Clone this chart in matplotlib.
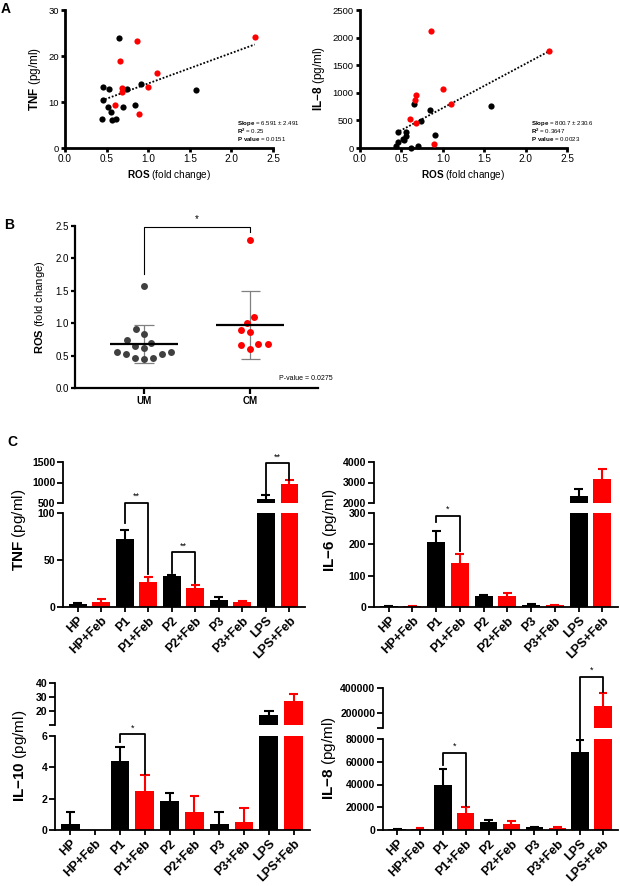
import numpy as np
import matplotlib
matplotlib.use('Agg')
import matplotlib.pyplot as plt

plt.rcParams['font.family'] = ['Liberation Sans', 'DejaVu Sans']
plt.rcParams['mathtext.fontset'] = 'custom'
plt.rcParams['mathtext.rm'] = 'Liberation Sans'
plt.rcParams['mathtext.bf'] = 'Liberation Sans:bold'

###############################################################################
# Data, panel A/B (one entry per donor)
ros_um = [1.58, 0.91, 0.84, 0.74, 0.70, 0.65, 0.61, 0.56, 0.55, 0.53, 0.52, 0.46, 0.46, 0.44]
tnf_um = [12.7, 13.9, 9.3, 12.9, 9.0, 23.9, 6.3, 6.0, 7.8, 12.9, 9.0, 13.2, 10.4, 6.4]
il8_um = [765, 229, 680, 494, 30, 801, 0, 289, 210, 140, 170, 289, 108, 30]

ros_cm = [2.28, 1.10, 1.00, 0.89, 0.86, 0.68, 0.66, 0.68, 0.60]
tnf_cm = [24.2, 16.3, 13.2, 7.5, 23.3, 13.1, 18.9, 12.1, 9.3]
il8_cm = [1765, 801, 1072, 78, 2127, 964, 873, 452, 524]

###############################################################################
# Data, panel C (mean and SEM)
groups = ['HP', 'HP+Feb', 'P1', 'P1+Feb', 'P2', 'P2+Feb', 'P3', 'P3+Feb', 'LPS', 'LPS+Feb']
tnf_mean = [2.8, 5.7, 72.3, 27.0, 33.0, 20.6, 7.4, 5.0, 606, 975]
tnf_sem = [1.5, 2.8, 9.3, 5.0, 1.4, 3.2, 2.9, 1.0, 99, 82]
il6_mean = [2.0, 3.0, 207, 140, 34, 34, 7.4, 5.0, 2358, 3187]
il6_sem = [0.8, 0.8, 37, 28, 5, 11, 3.2, 1.0, 309, 488]
il10_mean = [0.39, 0.0, 4.39, 2.46, 1.84, 1.13, 0.39, 0.49, 17.1, 26.8]
il10_sem = [0.74, 0.0, 0.92, 1.07, 0.54, 1.01, 0.74, 0.90, 3.1, 5.4]
il8_mean = [870, 1160, 39270, 15100, 6980, 5530, 2330, 2040, 68650, 257000]
il8_sem = [300, 300, 14230, 5260, 1750, 2320, 570, 560, 10750, 104000]

W, H = 620, 886
fig = plt.figure(figsize=(W / 100, H / 100), dpi=100)


def box(l, t, r, b):
    return [l / W, 1 - b / H, (r - l) / W, (b - t) / H]


def ftxt(x, y, s, **kw):
    fig.text(x / W, 1 - y / H, s, **kw)


def style(ax, lw, ticksize, ticklen=3):
    for sp in ('top', 'right'):
        ax.spines[sp].set_visible(False)
    for sp in ('left', 'bottom'):
        ax.spines[sp].set_linewidth(lw)
    ax.tick_params(width=lw, length=ticklen, labelsize=ticksize, pad=1.5)


###############################################################################
# A: scatter + linear fit
def scatter_panel(rect, y_um, y_cm, ylim, yticks, ylab, stats):
    ax = fig.add_axes(box(*rect))
    ax.scatter(ros_um, y_um, s=20, c='black', linewidths=0, zorder=3, clip_on=False)
    ax.scatter(ros_cm, y_cm, s=20, c='red', linewidths=0, zorder=3, clip_on=False)
    x = np.array(ros_um + ros_cm)
    y = np.array(y_um + y_cm)
    k, b = np.polyfit(x, y, 1)
    xs = np.array([x.min(), x.max()])
    ax.plot(xs, k * xs + b, color='black', ls=(0, (1, 1)), lw=1.3)
    ax.set_xlim(0, 2.5)
    ax.set_ylim(*ylim)
    ax.set_xticks(np.arange(0, 2.51, 0.5))
    ax.set_xticklabels(['%.1f' % v for v in np.arange(0, 2.51, 0.5)])
    ax.set_yticks(yticks)
    style(ax, 2.0, 7.2)
    ax.tick_params(axis='y', labelsize=6.8)
    ax.set_xlabel(r'$\mathbf{ROS}$ (fold change)', fontsize=7.2, labelpad=3)
    ax.set_ylabel(ylab, fontsize=8.5, labelpad=4)
    for i, s in enumerate(stats):
        ax.text(0.825, 0.175 - i * 0.055, s, transform=ax.transAxes, fontsize=4.4, va='center')
    return ax


scatter_panel((65, 10, 273, 148), tnf_um, tnf_cm, (0, 30), [0, 10, 20, 30],
              r'$\mathbf{TNF}$ (pg/ml)',
              [r'$\mathbf{Slope}$ = 6.591 ± 2.491', r'$\mathbf{R^2}$ = 0.25', r'$\mathbf{P\ value}$ = 0.0151'])
scatter_panel((360, 10, 567, 148), il8_um, il8_cm, (0, 2500), [0, 500, 1000, 1500, 2000, 2500],
              r'$\mathbf{IL{-}8}$ (pg/ml)',
              [r'$\mathbf{Slope}$ = 800.7 ± 230.6', r'$\mathbf{R^2}$ = 0.3647', r'$\mathbf{P\ value}$ = 0.0023'])


###############################################################################
# B: dot plot with mean +/- SD
def swarm(vals, px_per_x, px_per_y, d):
    order = np.argsort(vals)
    placed = []
    offs = np.zeros(len(vals))
    for i in order:
        yv = vals[i] * px_per_y
        bad = []
        for (px, py) in placed:
            dy = abs(py - yv)
            if dy < d:
                h = np.sqrt(d * d - dy * dy)
                bad.append((px - h, px + h))
        cands = [0.0] + [e for iv in bad for e in iv]
        cands.sort(key=abs)
        for c in cands:
            if all(not (lo + 1e-6 < c < hi - 1e-6) for lo, hi in bad):
                offs[i] = c
                break
        placed.append((offs[i], yv))
    return offs / px_per_x


axb = fig.add_axes(box(75, 226, 318, 388))
for pos, vals, col in ((1, ros_um, '#404040'), (2, ros_cm, 'red')):
    v = np.array(vals)
    xo = swarm(v, 106.0, 64.8, 9.5)
    axb.scatter(pos + xo, v, s=25, c=col, linewidths=0, zorder=3)
    m, sd = v.mean(), v.std(ddof=1)
    axb.hlines(m, pos - 0.32, pos + 0.32, color='black', lw=1.6, zorder=4)
    axb.vlines(pos, m - sd, m + sd, color='#808080', lw=0.9, zorder=2)
    axb.hlines([m - sd, m + sd], pos - 0.09, pos + 0.09, color='#808080', lw=0.9, zorder=2)
axb.plot([1, 1, 2, 2], [1.76, 2.48, 2.48, 2.40], color='black', lw=0.8, clip_on=False)
axb.text(1.5, 2.53, '*', ha='center', va='bottom', fontsize=7)
axb.text(2.27, 0.14, 'P-value = 0.0275', fontsize=5, va='center')
axb.set_xlim(0.35, 2.64)
axb.set_ylim(0, 2.5)
axb.set_yticks([0, 0.5, 1.0, 1.5, 2.0, 2.5])
axb.set_xticks([1, 2])
axb.set_xticklabels(['UM', 'CM'], fontweight='bold', fontsize=7.5)
style(axb, 1.6, 7)
axb.tick_params(axis='x', length=4)
axb.set_ylabel(r'$\mathbf{ROS}$ (fold change)', fontsize=8, labelpad=6)


###############################################################################
# C: bar charts with broken y axis
def bar_panel(up_rect, lo_rect, means, sems, up_lim, up_ticks, up_labels,
              lo_lim, lo_ticks, ylab, ylab_xy, brackets):
    ax_lo = fig.add_axes(box(*lo_rect))
    ax_up = fig.add_axes(box(*up_rect))
    ax_up.set_zorder(ax_lo.get_zorder() + 1)
    ax_up.set_ylim(*up_lim)
    ax_lo.set_ylim(*lo_lim)
    x = np.arange(len(groups))
    cols = ['red' if 'Feb' in g else 'black' for g in groups]
    for ax in (ax_up, ax_lo):
        lo, hi = ax.get_ylim()
        ax.patch.set_visible(False)
        ax.bar(x, means, width=0.76, color=cols, zorder=2)
        for xi, m, s, c in zip(x, means, sems, cols):
            if s > 0 and m + s > lo and m < hi:
                ax.vlines(xi, m, m + s, color=c, lw=1.5, zorder=1)
                ax.hlines(m + s, xi - 0.19, xi + 0.19, color=c, lw=1.5, zorder=1)
        ax.set_xlim(-0.62, 9.66)
        ax.set_ylim(lo, hi)
        style(ax, 1.3, 7.6, ticklen=4)
    ax_up.set_yticks(up_ticks)
    ax_up.set_yticklabels(up_labels, fontweight='bold')
    ax_up.spines['bottom'].set_visible(False)
    ax_up.set_xticks([])
    ax_lo.set_yticks(lo_ticks)
    ax_lo.set_yticklabels([str(t) for t in lo_ticks], fontweight='bold')
    ax_lo.set_xticks(x)
    ax_lo.set_xticklabels(groups, rotation=45, ha='right', rotation_mode='anchor',
                          fontweight='bold', fontsize=9)
    ax_lo.tick_params(axis='x', length=3.5, pad=2)
    ftxt(ylab_xy[0], ylab_xy[1], ylab, rotation=90, ha='center', va='center', fontsize=11)

    inv = ax_up.transData.inverted()

    def yup(v, where):
        a = ax_up if where == 'up' else ax_lo
        return inv.transform(a.transData.transform((0, v)))[1]

    for i, j, (yb, wb), (yl, wl), (yr, wr), lab in brackets:
        yt = yup(yb, wb)
        ax_up.plot([i, i, j, j], [yup(yl, wl), yt, yt, yup(yr, wr)],
                   color='black', lw=1.3, clip_on=False, zorder=5)
        ax_up.annotate(lab, (0.5 * (i + j), yt), xytext=(0, 1.5), textcoords='offset points',
                       ha='center', va='bottom', fontsize=6.5, annotation_clip=False)


bar_panel((63, 462, 305, 503), (63, 513, 305, 607), tnf_mean, tnf_sem,
          (500, 1500), [500, 1000, 1500], ['500', '1000', '1500'],
          (0, 100), [0, 50, 100], r'$\mathbf{TNF}$ (pg/ml)', (19, 530),
          [(2, 3, (110.6, 'lo'), (89, 'lo'), (35, 'lo'), '**'),
           (4, 5, (58, 'lo'), (36, 'lo'), (26, 'lo'), '**'),
           (8, 9, (1467, 'up'), (720, 'up'), (1070, 'up'), '**')])

bar_panel((374, 462, 618, 503), (374, 513, 618, 607), il6_mean, il6_sem,
          (2000, 4000), [2000, 3000, 4000], ['2000', '3000', '4000'],
          (0, 300), [0, 100, 200, 300], r'$\mathbf{IL{-}6}$ (pg/ml)', (330, 530),
          [(2, 3, (291, 'lo'), (270, 'lo'), (180, 'lo'), '*')])

bar_panel((55, 683, 310, 725), (55, 736, 310, 830), il10_mean, il10_sem,
          (10, 40), [10, 20, 30, 40], ['', '20', '30', '40'],
          (0, 6), [0, 2, 4, 6], r'$\mathbf{IL{-}10}$ (pg/ml)', (20, 756),
          [(2, 3, (6.1, 'lo'), (5.6, 'lo'), (3.6, 'lo'), '*')])

bar_panel((383, 688, 618, 728), (383, 739, 618, 830), il8_mean, il8_sem,
          (80000, 400000), [80000, 200000, 400000], ['', '200000', '400000'],
          (0, 80000), [0, 20000, 40000, 60000, 80000], r'$\mathbf{IL{-}8}$ (pg/ml)', (329, 758),
          [(2, 3, (67800, 'lo'), (57000, 'lo'), (21000, 'lo'), '*'),
           (8, 9, (491000, 'up'), (80000, 'lo'), (365000, 'up'), '*')])

###############################################################################
# panel letters
ftxt(1, 9, 'A', fontsize=10, fontweight='bold', va='center')
ftxt(4, 225, 'B', fontsize=10, fontweight='bold', va='center')
ftxt(7, 442, 'C', fontsize=10, fontweight='bold', va='center')

fig.savefig('out.png', dpi=100)
